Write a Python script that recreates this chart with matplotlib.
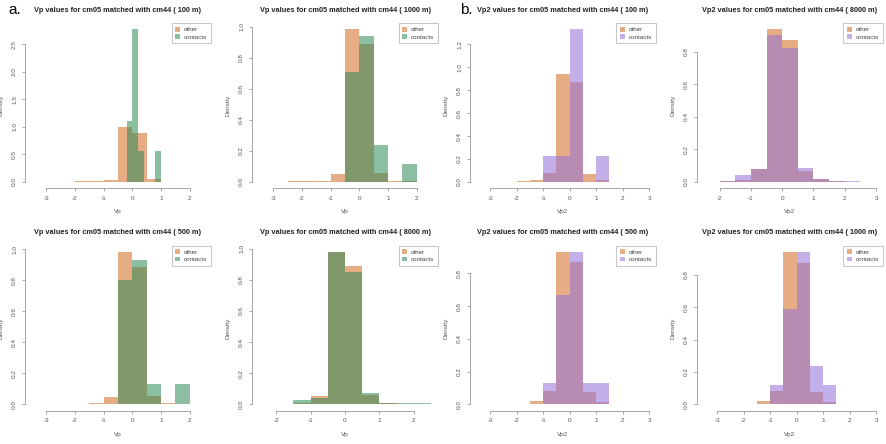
import numpy as np
import matplotlib
matplotlib.use("Agg")
import matplotlib.pyplot as plt
from matplotlib.patches import Patch

plt.rcParams['font.family'] = ['Liberation Sans', 'DejaVu Sans']
plt.rcParams['axes.unicode_minus'] = False

# histogram densities (other: 0.5 wide bins)
titles = [
    "Vp values for cm05 matched with cm44 ( 100 m)",
    "Vp values for cm05 matched with cm44 ( 1000 m)",
    "Vp2 values for cm05 matched with cm44 ( 100 m)",
    "Vp2 values for cm05 matched with cm44 ( 8000 m)",
    "Vp values for cm05 matched with cm44 ( 500 m)",
    "Vp values for cm05 matched with cm44 ( 8000 m)",
    "Vp2 values for cm05 matched with cm44 ( 500 m)",
    "Vp2 values for cm05 matched with cm44 ( 1000 m)",
]
xlabels = ["Vp", "Vp", "Vp2", "Vp2", "Vp", "Vp", "Vp2", "Vp2"]

other_start = [-3.5, -3.5, -3.5, -2.5, -3.5, -2.5, -3.5, -3.5]
other_dens = [
    [0.002, 0.002, 0.003, 0.008, 0.012, 0.04, 0.99, 0.885, 0.055, 0.005, 0.003, 0.002],
    [0.002, 0.002, 0.003, 0.004, 0.008, 0.049, 0.985, 0.889, 0.058, 0.008, 0.003, 0.002],
    [0.003, 0.002, 0.003, 0.004, 0.02, 0.08, 0.944, 0.871, 0.073, 0.017, 0.003, 0.002, 0.002],
    [0.002, 0.004, 0.014, 0.08, 0.941, 0.872, 0.066, 0.016, 0.004, 0.002, 0.001],
    [0.002, 0.002, 0.002, 0.003, 0.009, 0.049, 0.985, 0.884, 0.056, 0.009, 0.002, 0.002],
    [0.003, 0.003, 0.008, 0.053, 0.981, 0.889, 0.06, 0.01, 0.005, 0.002],
    [0.005, 0.002, 0.003, 0.004, 0.018, 0.079, 0.932, 0.867, 0.073, 0.012, 0.002, 0.002, 0.001],
    [0.005, 0.002, 0.003, 0.004, 0.02, 0.084, 0.942, 0.872, 0.074, 0.016, 0.002, 0.002, 0.001],
]

contact_start = [-0.2, -0.5, -1.0, -2.5, -0.5, -2.5, -1.0, -1.0]
contact_width = [0.2, 0.5, 0.5, 0.5, 0.5, 0.5, 0.5, 0.5]
contact_dens = [
    [1.111, 2.778, 0.556, 0, 0, 0.556],
    [0.706, 0.941, 0.235, 0, 0.118],
    [0.222, 0.222, 1.333, 0, 0.222],
    [0.001, 0.004, 0.043, 0.078, 0.905, 0.825, 0.088, 0.016, 0.006, 0.004, 0.001],
    [0.8, 0.933, 0.133, 0, 0.133],
    [0.002, 0.003, 0.025, 0.038, 0.981, 0.847, 0.074, 0.01, 0.01, 0.008],
    [0.133, 0.667, 0.933, 0.133, 0.133],
    [0.118, 0.588, 0.941, 0.235, 0.118],
]

xticks = [
    [-3, -2, -1, 0, 1, 2], [-3, -2, -1, 0, 1, 2],
    [-3, -2, -1, 0, 1, 2, 3], [-2, -1, 0, 1, 2, 3],
    [-3, -2, -1, 0, 1, 2], [-2, -1, 0, 1, 2],
    [-3, -2, -1, 0, 1, 2, 3], [-3, -2, -1, 0, 1, 2, 3],
]
yticks = [
    [0.0, 0.5, 1.0, 1.5, 2.0, 2.5], [0.0, 0.2, 0.4, 0.6, 0.8, 1.0],
    [0.0, 0.2, 0.4, 0.6, 0.8, 1.0, 1.2], [0.0, 0.2, 0.4, 0.6, 0.8],
    [0.0, 0.2, 0.4, 0.6, 0.8, 1.0], [0.0, 0.2, 0.4, 0.6, 0.8, 1.0],
    [0.0, 0.2, 0.4, 0.6, 0.8], [0.0, 0.2, 0.4, 0.6, 0.8],
]

orange = '#D2691E'
green = '#2E8B57'
purple = '#9370DB'
alpha = 0.55

W, H = 887, 444
fig = plt.figure(figsize=(W / 100, H / 100), dpi=100)

lefts = [25, 252, 470, 697]
tops = [23, 245.5]
aw, ah = 186, 165

for i in range(8):
    r, c = divmod(i, 4)
    ax = fig.add_axes([lefts[c] / W, 1 - (tops[r] + ah) / H, aw / W, ah / H])

    od = np.array(other_dens[i])
    oe = other_start[i] + 0.5 * np.arange(len(od) + 1)
    cd = np.array(contact_dens[i])
    ce = contact_start[i] + contact_width[i] * np.arange(len(cd) + 1)
    ccol = green if c < 2 else purple

    ax.bar(oe[:-1], od, width=np.diff(oe), align='edge', color=orange, alpha=alpha, linewidth=0)
    ax.bar(ce[:-1], cd, width=np.diff(ce), align='edge', color=ccol, alpha=alpha, linewidth=0)

    # R-like extent: 4% beyond the data range
    x0, x1 = min(oe[0], ce[0]), max(oe[-1], ce[-1])
    ymax = max(od.max(), cd.max())
    ax.set_xlim(x0 - 0.04 * (x1 - x0), x1 + 0.04 * (x1 - x0))
    ax.set_ylim(-0.04 * ymax, 1.04 * ymax)

    ax.set_xticks(xticks[i])
    ax.set_xticklabels([str(t) for t in xticks[i]])
    ax.set_yticks(yticks[i])
    ax.set_yticklabels(["%.1f" % t for t in yticks[i]])
    for lab in ax.get_yticklabels():
        lab.set_rotation(90)
        lab.set_va('center')

    for s in ['top', 'right']:
        ax.spines[s].set_visible(False)
    ax.spines['bottom'].set_bounds(xticks[i][0], xticks[i][-1])
    ax.spines['left'].set_bounds(yticks[i][0], yticks[i][-1])
    for s in ['bottom', 'left']:
        ax.spines[s].set_color('#999999')
        ax.spines[s].set_linewidth(0.6)
    ax.tick_params(length=2.2, width=0.6, color='#999999', labelsize=4.6,
                   labelcolor='#555555', pad=3.5)

    ax.set_title(titles[i], fontsize=5.3, fontweight='bold', pad=8, color='#222222')
    ax.set_xlabel(xlabels[i], fontsize=4.6, color='#555555', labelpad=6)
    ax.set_ylabel("Density", fontsize=4.6, color='#555555', labelpad=6)

    handles = [Patch(facecolor=orange, alpha=alpha), Patch(facecolor=ccol, alpha=alpha)]
    leg = ax.legend(handles, ["other", "contacts"], loc='upper right', fontsize=4.5,
                    frameon=True, fancybox=False, borderaxespad=0, handlelength=0.8,
                    handleheight=0.8, handletextpad=0.6, labelspacing=0.3, borderpad=0.6)
    leg.get_frame().set_edgecolor('#aaaaaa')
    leg.get_frame().set_linewidth(0.6)
    for t in leg.get_texts():
        t.set_color('#444444')

fig.text(15 / W, 1 - 10 / H, "a.", fontsize=11, va='center', ha='center')
fig.text(466 / W, 1 - 10 / H, "b.", fontsize=11, va='center', ha='center')

fig.savefig("out.png", dpi=100)
